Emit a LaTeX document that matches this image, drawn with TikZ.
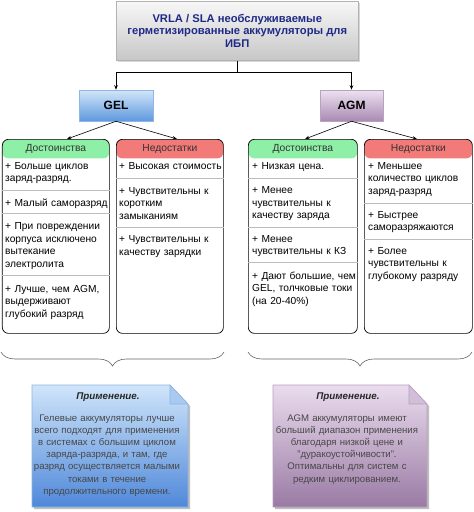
\documentclass[tikz,border=0pt]{standalone}
\usepackage{fontspec}
\setmainfont{Liberation Sans}
\usetikzlibrary{arrows.meta,decorations.pathreplacing,shadows,calc}
\definecolor{titleblue}{HTML}{1F2A86}
\definecolor{goodhdr}{HTML}{8EF0A6}
\definecolor{badhdr}{HTML}{F27A78}
\definecolor{gelT}{HTML}{D2E6FA}
\definecolor{gelB}{HTML}{5E98DE}
\definecolor{agmT}{HTML}{EEE2F0}
\definecolor{agmB}{HTML}{A88AB2}
\definecolor{noteBT}{HTML}{CFE5FA}
\definecolor{noteBB}{HTML}{4F88DA}
\definecolor{noteBD}{HTML}{8EB4E0}
\definecolor{notePT}{HTML}{EADCEE}
\definecolor{notePB}{HTML}{9A7AA4}
\definecolor{notePD}{HTML}{B8A0C0}
\definecolor{notetext}{HTML}{474747}
\definecolor{divgray}{HTML}{BDBDBD}
\tikzset{
  panelbase/.style={draw=black, line width=0.7pt, rounded corners=6pt, fill=white,
    minimum height=194pt, anchor=north west, inner sep=0pt},
  goodpanel/.style={panelbase, minimum width=#1,
    path picture={\fill[goodhdr] (path picture bounding box.north west) rectangle ($(path picture bounding box.north east)+(0,19)$);}},
  badpanel/.style={panelbase, minimum width=#1,
    path picture={\fill[badhdr] (path picture bounding box.north west) rectangle ($(path picture bounding box.north east)+(0,19)$);}},
  hdr/.style={font=\fontsize{10.3}{12}\selectfont, text=black!80, inner sep=0pt},
  item/.style={font=\fontsize{10.2}{12.6}\selectfont, align=left, text width=112pt, inner sep=0pt, anchor=base west},
  divider/.style={draw=divgray, line width=0.6pt},
  conn/.style={draw=black, line width=0.6pt},
  arr/.style={conn, -{Stealth[length=4.5pt,width=3.5pt]}},
  typebox/.style={draw=#1, line width=0.5pt, minimum height=31pt, inner sep=0pt,
    font=\fontsize{12}{14}\selectfont\bfseries, drop shadow={opacity=0.25, shadow xshift=1pt, shadow yshift=-1pt}},
  bracestyle/.style={draw=black!60, line width=0.6pt, decorate, decoration={brace, amplitude=14pt, aspect=0.5}},
  notetitle/.style={font=\fontsize{9.8}{12}\selectfont\bfseries\itshape, text=black!85, inner sep=0pt, anchor=base},
  notebody/.style={font=\fontsize{9.6}{12.2}\selectfont, text=notetext, align=center, text width=160pt, inner sep=0pt, anchor=base},
}
\begin{document}
\begin{tikzpicture}[x=1pt,y=-1pt]
\useasboundingbox[fill=white] (0,0) rectangle (474,512);

% top box
\node[draw=black!30, line width=0.5pt, top color=black!3, bottom color=black!22,
  minimum width=242pt, minimum height=59pt, anchor=north west, inner sep=0pt,
  drop shadow={opacity=0.3, shadow xshift=1.5pt, shadow yshift=-1.5pt},
  font=\fontsize{11.2}{12.8}\selectfont\bfseries, text=titleblue, align=center]
  (top) at (116,1) {VRLA / SLA необслуживаемые\\герметизированные аккумуляторы для\\ИБП};

% GEL / AGM
\node[typebox=gelB!70, top color=gelT, bottom color=gelB, minimum width=74pt] (gel) at (116,105.5) {GEL};
\node[typebox=agmB!80, top color=agmT, bottom color=agmB, minimum width=63pt] (agm) at (351.5,105.5) {AGM};

\coordinate (jn) at ($(top.south)+(0,12)$);
\draw[conn] (top.south) -- (jn);
\draw[arr] (jn) -| (gel.north);
\draw[arr] (jn) -| (agm.north);

% panels
\node[goodpanel=107pt] (ld) at (2,139) {};
\node[badpanel=107pt] (ln) at (116,139) {};
\node[goodpanel=109pt] (rd) at (248,139) {};
\node[badpanel=108pt] (rn) at (364,139) {};

\node[hdr] (ldh) at ($(ld.north)+(0,9.5)$) {Достоинства};
\node[hdr] (lnh) at ($(ln.north)+(0,9.5)$) {Недостатки};
\node[hdr] (rdh) at ($(rd.north)+(0,9.5)$) {Достоинства};
\node[hdr] (rnh) at ($(rn.north)+(0,9.5)$) {Недостатки};

\coordinate (ldin) at (67,139);
\coordinate (lnin) at (177,139);
\coordinate (rdin) at (305,139);
\coordinate (rnin) at (417,139);
\draw[arr] (gel.south) -- (ldin);
\draw[arr] (gel.south) -- (lnin);
\draw[arr] (agm.south) -- (rdin);
\draw[arr] (agm.south) -- (rnin);

% GEL advantages
\node[item] (ld1) at (5,169) {+ Больше циклов\\заряд-разряд.};
\node[item] (ld2) at (5,206) {+ Малый саморазряд};
\node[item] (ld3) at (5,229.5) {+ При повреждении\\корпуса исключено\\вытекание\\электролита};
\node[item] (ld4) at (5,292) {+ Лучше, чем AGM,\\выдерживают\\глубокий разряд};
\draw[divider] (ld.west |- 0,190) -- (ld.east |- 0,190);
\draw[divider] (ld.west |- 0,213) -- (ld.east |- 0,213);
\draw[divider] (ld.west |- 0,275) -- (ld.east |- 0,275);

% GEL disadvantages
\node[item] (ln1) at (119,169) {+ Высокая стоимость};
\node[item] (ln2) at (119,194) {+ Чувствительны к\\коротким\\замыканиям};
\node[item] (ln3) at (119,242.5) {+ Чувствительны к\\качеству зарядки};
\draw[divider] (ln.west |- 0,178) -- (ln.east |- 0,178);
\draw[divider] (ln.west |- 0,227) -- (ln.east |- 0,227);

% AGM advantages
\node[item] (rd1) at (252,169) {+ Низкая цена.};
\node[item] (rd2) at (252,193.5) {+ Менее\\чувствительны к\\качеству заряда};
\node[item] (rd3) at (252,242) {+ Менее\\чувствительны к КЗ};
\node[item] (rd4) at (252,279) {+ Дают большие, чем\\GEL, толчковые токи\\(на 20-40\%)};
\draw[divider] (rd.west |- 0,178) -- (rd.east |- 0,178);
\draw[divider] (rd.west |- 0,227) -- (rd.east |- 0,227);
\draw[divider] (rd.west |- 0,262) -- (rd.east |- 0,262);

% AGM disadvantages
\node[item] (rn1) at (368,169) {+ Меньшее\\количество циклов\\заряд-разряд};
\node[item] (rn2) at (368,218) {+ Быстрее\\саморазряжаются};
\node[item] (rn3) at (368,254) {+ Более\\чувствительны к\\глубокому разряду};
\draw[divider] (rn.west |- 0,203) -- (rn.east |- 0,203);
\draw[divider] (rn.west |- 0,239) -- (rn.east |- 0,239);

% braces
\coordinate (lbR) at (224,352);
\coordinate (lbL) at (1,352);
\coordinate (rbR) at (472,352);
\coordinate (rbL) at (248,352);
\draw[bracestyle] (lbR) -- (lbL);
\draw[bracestyle] (rbR) -- (rbL);

% notes
\fill[black!25] (34,387) -- (172,387) -- (190,406) -- (190,509) -- (34,509) -- cycle;
\shade[top color=noteBT, bottom color=noteBB, draw=noteBD, line width=0.6pt]
  (32,385) -- (170,385) -- (188,404) -- (188,507) -- (32,507) -- cycle;
\fill[noteBT!70!noteBB, draw=noteBD, line width=0.6pt] (170,385) -- (170,404) -- (188,404) -- cycle;
\node[notetitle] (n1t) at (108,399) {Применение.};
\node[notebody] (n1b) at (107,421) {Гелевые аккумуляторы лучше\\всего подходят для применения\\в системах с большим циклом\\заряда-разряда, и там, где\\разряд осуществляется малыми\\токами в течение\\продолжительного времени.};

\fill[black!25] (275,387) -- (411,387) -- (429,406) -- (429,509) -- (275,509) -- cycle;
\shade[top color=notePT, bottom color=notePB, draw=notePD, line width=0.6pt]
  (273,385) -- (409,385) -- (427,404) -- (427,507) -- (273,507) -- cycle;
\fill[notePT!70!notePB, draw=notePD, line width=0.6pt] (409,385) -- (409,404) -- (427,404) -- cycle;
\node[notetitle] (n2t) at (348,399) {Применение.};
\node[notebody] (n2b) at (347,421) {AGM аккумуляторы имеют\\больший диапазон применения\\благодаря низкой цене и\\"дуракоустойчивости".\\Оптимальны для систем с\\редким циклированием.};
\end{tikzpicture}
\end{document}
